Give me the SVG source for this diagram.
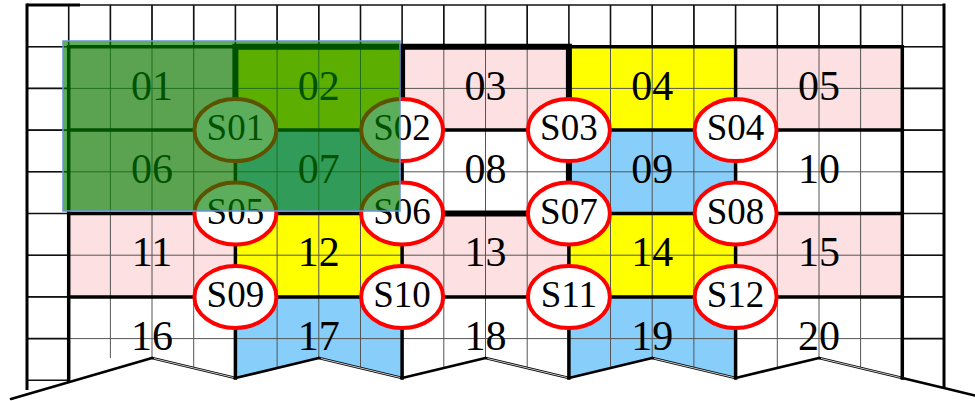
<svg xmlns="http://www.w3.org/2000/svg" width="975" height="401" viewBox="0 0 975 401">
<style>
.pink{fill:#fde0e1}
.yel{fill:#ffff00}
.blue{fill:#87cefa}
.wht{fill:#ffffff}
.grid{stroke:#555;stroke-width:1;fill:none}
.mgrid{stroke:#111;stroke-width:1.6;fill:none}
.wall{stroke:#000;stroke-width:3.5;fill:none;stroke-linecap:square}
.heavy{stroke:#000;stroke-width:6;fill:none;stroke-linecap:square}
.outer{stroke:#000;stroke-width:3;fill:none}
.roof{stroke:#000;stroke-width:2.6;fill:none;stroke-linecap:round}
.roof2{stroke:#fff;stroke-width:0.8;fill:none}
.rl{font-family:"Liberation Serif","Times New Roman",serif;font-size:42px;fill:#000;text-anchor:middle}
.sens ellipse{fill:#fff;stroke:#ff0000;stroke-width:4}
.sl{font-family:"Liberation Serif","Times New Roman",serif;font-size:37px;fill:#000;text-anchor:middle}
</style>
<rect x="0" y="0" width="975" height="401" fill="#fff"/>

<!-- room fills -->
<g id="room-fills">
<rect class="pink" x="68.7" y="46.7" width="166.7" height="83.4"/>
<rect class="yel" x="235.4" y="46.7" width="166.7" height="83.4"/>
<rect class="pink" x="402.1" y="46.7" width="166.8" height="83.4"/>
<rect class="yel" x="568.9" y="46.7" width="166.7" height="83.4"/>
<rect class="pink" x="735.6" y="46.7" width="166.7" height="83.4"/>
<rect class="pink" x="68.7" y="130.1" width="166.7" height="83.4"/>
<rect class="blue" x="235.4" y="130.1" width="166.7" height="83.4"/>
<rect class="blue" x="568.9" y="130.1" width="166.7" height="83.4"/>
<rect class="pink" x="68.7" y="213.5" width="166.7" height="83.4"/>
<rect class="yel" x="235.4" y="213.5" width="166.7" height="83.4"/>
<rect class="pink" x="402.1" y="213.5" width="166.8" height="83.4"/>
<rect class="yel" x="568.9" y="213.5" width="166.7" height="83.4"/>
<rect class="pink" x="735.6" y="213.5" width="166.7" height="83.4"/>
<polygon class="blue" points="235.4,296.9 402.1,296.9 402.1,378 318.8,358 235.4,378"/>
<polygon class="blue" points="568.9,296.9 735.6,296.9 735.6,378 652.2,358 568.9,378"/>
</g>

<!-- inner grid -->
<g id="grid">
<path class="grid" d="M27,46.7H944M27,88.4H944M27,130.1H944M27,171.8H944M27,213.5H944M27,255.2H944M27,296.9H944M27,338.6H944"/>
<path class="grid" d="M110.4,5V358M152,5V358M193.7,5V368M277.1,5V368M318.8,5V358M360.5,5V368M443.8,5V368M485.5,5V358M527.2,5V368M610.5,5V368M652.2,5V358M693.9,5V368M777.3,5V368M819,5V358M860.6,5V368"/>
<!-- margin grid -->
<path class="mgrid" d="M27,5H944"/>
<path class="mgrid" d="M68.7,5V46.7M110.4,5V46.7M152,5V46.7M193.7,5V46.7M235.4,5V46.7M277.1,5V46.7M318.8,5V46.7M360.5,5V46.7M402.1,5V46.7M443.8,5V46.7M485.5,5V46.7M527.2,5V46.7M568.9,5V46.7M610.5,5V46.7M652.2,5V46.7M693.9,5V46.7M735.6,5V46.7M777.3,5V46.7M819,5V46.7M860.6,5V46.7M902.3,5V46.7"/>
<path class="mgrid" d="M27,46.7H68.7M27,88.4H68.7M27,130.1H68.7M27,171.8H68.7M27,213.5H68.7M27,255.2H68.7M27,296.9H68.7M27,338.6H68.7M27,380.3H68.7"/>
<path class="mgrid" d="M902.3,46.7H944M902.3,88.4H944M902.3,130.1H944M902.3,171.8H944M902.3,213.5H944M902.3,255.2H944M902.3,296.9H944M902.3,338.6H944"/>
</g>

<!-- walls and outline -->
<g id="walls">
<path class="outer" d="M27,3.5V390M944,3.5V388"/>
<path class="outer" d="M27,5H80" stroke-width="4"/>
<path class="wall" d="M68.7,46.7H902.3M68.7,46.7V380.3M902.3,46.7V378"/>
<path class="wall" d="M68.7,130.1H902.3M68.7,213.5H902.3M68.7,296.9H902.3"/>
<path class="wall" d="M235.4,46.7V378M402.1,46.7V378M568.9,46.7V378M735.6,46.7V378"/>
<path class="heavy" d="M235.4,46.7H568.9M235.4,46.7V130.1M402.1,46.7V130.1M568.9,46.7V213.5M402.1,213.5H568.9"/>
</g>

<!-- roof zigzag -->
<g id="connectors">
<path class="roof" d="M11,399L152,358M235.4,378L318.8,358M402.1,378L485.5,358M568.9,378L652.2,358M735.6,378L819,358M902.3,378L944,388L975,395.5"/>
<path class="roof" d="M152,358L235.4,378M318.8,358L402.1,378M485.5,358L568.9,378M652.2,358L735.6,378M819,358L902.3,378" stroke-width="3"/>
<path class="roof2" d="M154,358.5L233.4,377.5M320.8,358.5L400.1,377.5M487.5,358.5L566.9,377.5M654.2,358.5L733.6,377.5M821,358.5L900.3,377.5"/>
</g>

<!-- room labels -->
<g id="room01"><text class="rl" x="152" y="99.5">01</text></g>
<g id="room02"><text class="rl" x="318.8" y="99.5">02</text></g>
<g id="room03"><text class="rl" x="485.5" y="99.5">03</text></g>
<g id="room04"><text class="rl" x="652.2" y="99.5">04</text></g>
<g id="room05"><text class="rl" x="819" y="99.5">05</text></g>
<g id="room06"><text class="rl" x="152" y="183">06</text></g>
<g id="room07"><text class="rl" x="318.8" y="183">07</text></g>
<g id="room08"><text class="rl" x="485.5" y="183">08</text></g>
<g id="room09"><text class="rl" x="652.2" y="183">09</text></g>
<g id="room10"><text class="rl" x="819" y="183">10</text></g>
<g id="room11"><text class="rl" x="152" y="266.3">11</text></g>
<g id="room12"><text class="rl" x="318.8" y="266.3">12</text></g>
<g id="room13"><text class="rl" x="485.5" y="266.3">13</text></g>
<g id="room14"><text class="rl" x="652.2" y="266.3">14</text></g>
<g id="room15"><text class="rl" x="819" y="266.3">15</text></g>
<g id="room16"><text class="rl" x="152" y="349.6">16</text></g>
<g id="room17"><text class="rl" x="318.8" y="349.6">17</text></g>
<g id="room18"><text class="rl" x="485.5" y="349.6">18</text></g>
<g id="room19"><text class="rl" x="652.2" y="349.6">19</text></g>
<g id="room20"><text class="rl" x="819" y="349.6">20</text></g>

<!-- sensors -->
<g id="S01" class="sens"><ellipse cx="235.4" cy="130.1" rx="41" ry="31"/><text class="sl" x="235.4" y="140.3">S01</text></g>
<g id="S02" class="sens"><ellipse cx="402.1" cy="130.1" rx="41" ry="31"/><text class="sl" x="402.1" y="140.3">S02</text></g>
<g id="S03" class="sens"><ellipse cx="568.9" cy="130.1" rx="41" ry="31"/><text class="sl" x="568.9" y="140.3">S03</text></g>
<g id="S04" class="sens"><ellipse cx="735.6" cy="130.1" rx="41" ry="31"/><text class="sl" x="735.6" y="140.3">S04</text></g>
<g id="S05" class="sens"><ellipse cx="235.4" cy="213.5" rx="41" ry="31"/><text class="sl" x="235.4" y="223.7">S05</text></g>
<g id="S06" class="sens"><ellipse cx="402.1" cy="213.5" rx="41" ry="31"/><text class="sl" x="402.1" y="223.7">S06</text></g>
<g id="S07" class="sens"><ellipse cx="568.9" cy="213.5" rx="41" ry="31"/><text class="sl" x="568.9" y="223.7">S07</text></g>
<g id="S08" class="sens"><ellipse cx="735.6" cy="213.5" rx="41" ry="31"/><text class="sl" x="735.6" y="223.7">S08</text></g>
<g id="S09" class="sens"><ellipse cx="235.4" cy="296.9" rx="41" ry="31"/><text class="sl" x="235.4" y="307.1">S09</text></g>
<g id="S10" class="sens"><ellipse cx="402.1" cy="296.9" rx="41" ry="31"/><text class="sl" x="402.1" y="307.1">S10</text></g>
<g id="S11" class="sens"><ellipse cx="568.9" cy="296.9" rx="41" ry="31"/><text class="sl" x="568.9" y="307.1">S11</text></g>
<g id="S12" class="sens"><ellipse cx="735.6" cy="296.9" rx="41" ry="31"/><text class="sl" x="735.6" y="307.1">S12</text></g>

<!-- translucent green selection overlay -->
<g id="overlay">
<rect x="63" y="41" width="337" height="170" fill="#008000" fill-opacity="0.64" stroke="#6a93d4" stroke-width="1.5"/>
</g>
</svg>
